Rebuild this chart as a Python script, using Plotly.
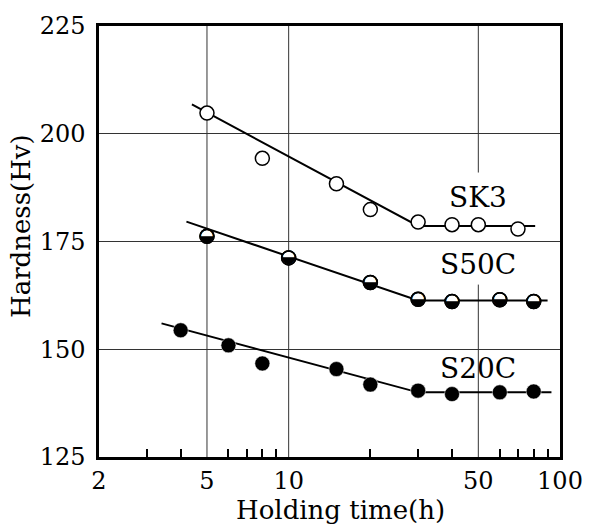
import math
import plotly.graph_objects as go

# ---- data ----
sk3_x = [5, 8, 15, 20, 30, 40, 50, 70]
sk3_y = [204.8, 194.3, 188.4, 182.4, 179.5, 178.9, 178.9, 177.9]
sk3_fit_x = [4.4, 30, 81]
sk3_fit_y = [206.8, 178.6, 178.6]

s50c_x = [5, 10, 20, 30, 40, 60, 80]
s50c_y = [176.2, 171.2, 165.5, 161.6, 161.1, 161.5, 161.1]
s50c_fit_x = [4.2, 30, 90]
s50c_fit_y = [179.6, 161.3, 161.3]

s20c_x = [4, 6, 8, 15, 20, 30, 40, 60, 80]
s20c_y = [154.4, 150.9, 146.7, 145.4, 141.8, 140.4, 139.6, 140.0, 140.2]
s20c_fit_x = [3.4, 30, 93]
s20c_fit_y = [156.0, 140.0, 140.0]

x_ticks = [2, 5, 10, 50, 100]
x_minor = [3, 4, 6, 7, 8, 9, 20, 30, 40, 60, 70, 80, 90]
y_ticks = [125, 150, 175, 200, 225]

labels = ["SK3", "S50C", "S20C"]
label_x = [50, 50, 50]
label_y = [185.2, 169.6, 145.5]

FONT = "DejaVu Serif"
MS = 14

fig = go.Figure()

for fx, fy in [(sk3_fit_x, sk3_fit_y), (s50c_fit_x, s50c_fit_y), (s20c_fit_x, s20c_fit_y)]:
    fig.add_trace(go.Scatter(x=fx, y=fy, mode="lines",
                             line=dict(color="black", width=2), showlegend=False,
                             hoverinfo="skip"))

# SK3 open circles
fig.add_trace(go.Scatter(x=sk3_x, y=sk3_y, mode="markers", showlegend=False,
                         marker=dict(symbol="circle", size=MS, color="white",
                                     line=dict(color="black", width=1.5))))
# S50C half-filled circles
fig.add_trace(go.Scatter(x=s50c_x, y=s50c_y, mode="markers", showlegend=False,
                         marker=dict(symbol="circle", size=MS, color="white",
                                     line=dict(color="black", width=1.5))))
fig.add_trace(go.Scatter(x=s50c_x, y=s50c_y, mode="text", text=["◒"] * len(s50c_x),
                         textposition="middle center", showlegend=False,
                         textfont=dict(family="DejaVu Sans", size=18, color="black")))
fig.add_trace(go.Scatter(x=s50c_x, y=s50c_y, mode="markers", showlegend=False,
                         marker=dict(symbol="circle-open", size=MS, color="black",
                                     line=dict(color="black", width=1.5))))
# S20C filled circles
fig.add_trace(go.Scatter(x=s20c_x, y=s20c_y, mode="markers", showlegend=False,
                         marker=dict(symbol="circle", size=MS + 1, color="black",
                                     line=dict(color="white", width=0.5))))

# vertical grid lines (x=50 is interrupted around the labels)
grid = dict(color="#333333", width=1)
shapes = [
    dict(type="line", xref="x", yref="paper", x0=5, x1=5, y0=0, y1=1, line=grid, layer="below"),
    dict(type="line", xref="x", yref="paper", x0=10, x1=10, y0=0, y1=1, line=grid, layer="below"),
    dict(type="line", xref="x", yref="y", x0=50, x1=50, y0=125, y1=165, line=grid, layer="below"),
    dict(type="line", xref="x", yref="y", x0=50, x1=50, y0=191, y1=225, line=grid, layer="below"),
]

annotations = []
for t, lx, ly in zip(labels, label_x, label_y):
    annotations.append(dict(x=math.log10(lx), y=ly, xref="x", yref="y", text=t,
                            showarrow=False, xanchor="center", yanchor="middle",
                            font=dict(family=FONT, size=28, color="black")))
annotations.append(dict(x=0.5236, y=-0.122, xref="paper", yref="paper",
                        text="Holding time(h)", showarrow=False,
                        xanchor="center", yanchor="middle",
                        font=dict(family=FONT, size=26, color="black")))
annotations.append(dict(x=-0.1695, y=0.5356, xref="paper", yref="paper",
                        text="Hardness(Hv)", showarrow=False, textangle=-90,
                        xanchor="center", yanchor="middle",
                        font=dict(family=FONT, size=26, color="black")))

tickfont = dict(family=FONT, size=24, color="black")

fig.update_layout(
    width=595, height=524,
    margin=dict(l=99, r=30, t=22, b=67),
    paper_bgcolor="white", plot_bgcolor="white",
    shapes=shapes, annotations=annotations,
    xaxis=dict(type="log", range=[math.log10(2), 2],
               tickmode="array", tickvals=x_ticks, ticktext=[str(v) for v in x_ticks],
               ticks="", showgrid=False, zeroline=False,
               showline=True, mirror=True, linecolor="black", linewidth=2.5,
               tickfont=tickfont,
               minor=dict(tickmode="array", tickvals=x_minor, ticks="inside",
                          ticklen=8, tickwidth=1.5, tickcolor="black", showgrid=False)),
    yaxis=dict(range=[125, 225], tickmode="array", tickvals=y_ticks,
               ticks="", showgrid=True, gridcolor="#333333", gridwidth=1,
               zeroline=False, ticklabelstandoff=6,
               showline=True, mirror=True, linecolor="black", linewidth=2.5,
               tickfont=tickfont),
)

fig.write_html("out.html", config={"displayModeBar": False},
               post_script="document.body.style.margin='0';")
